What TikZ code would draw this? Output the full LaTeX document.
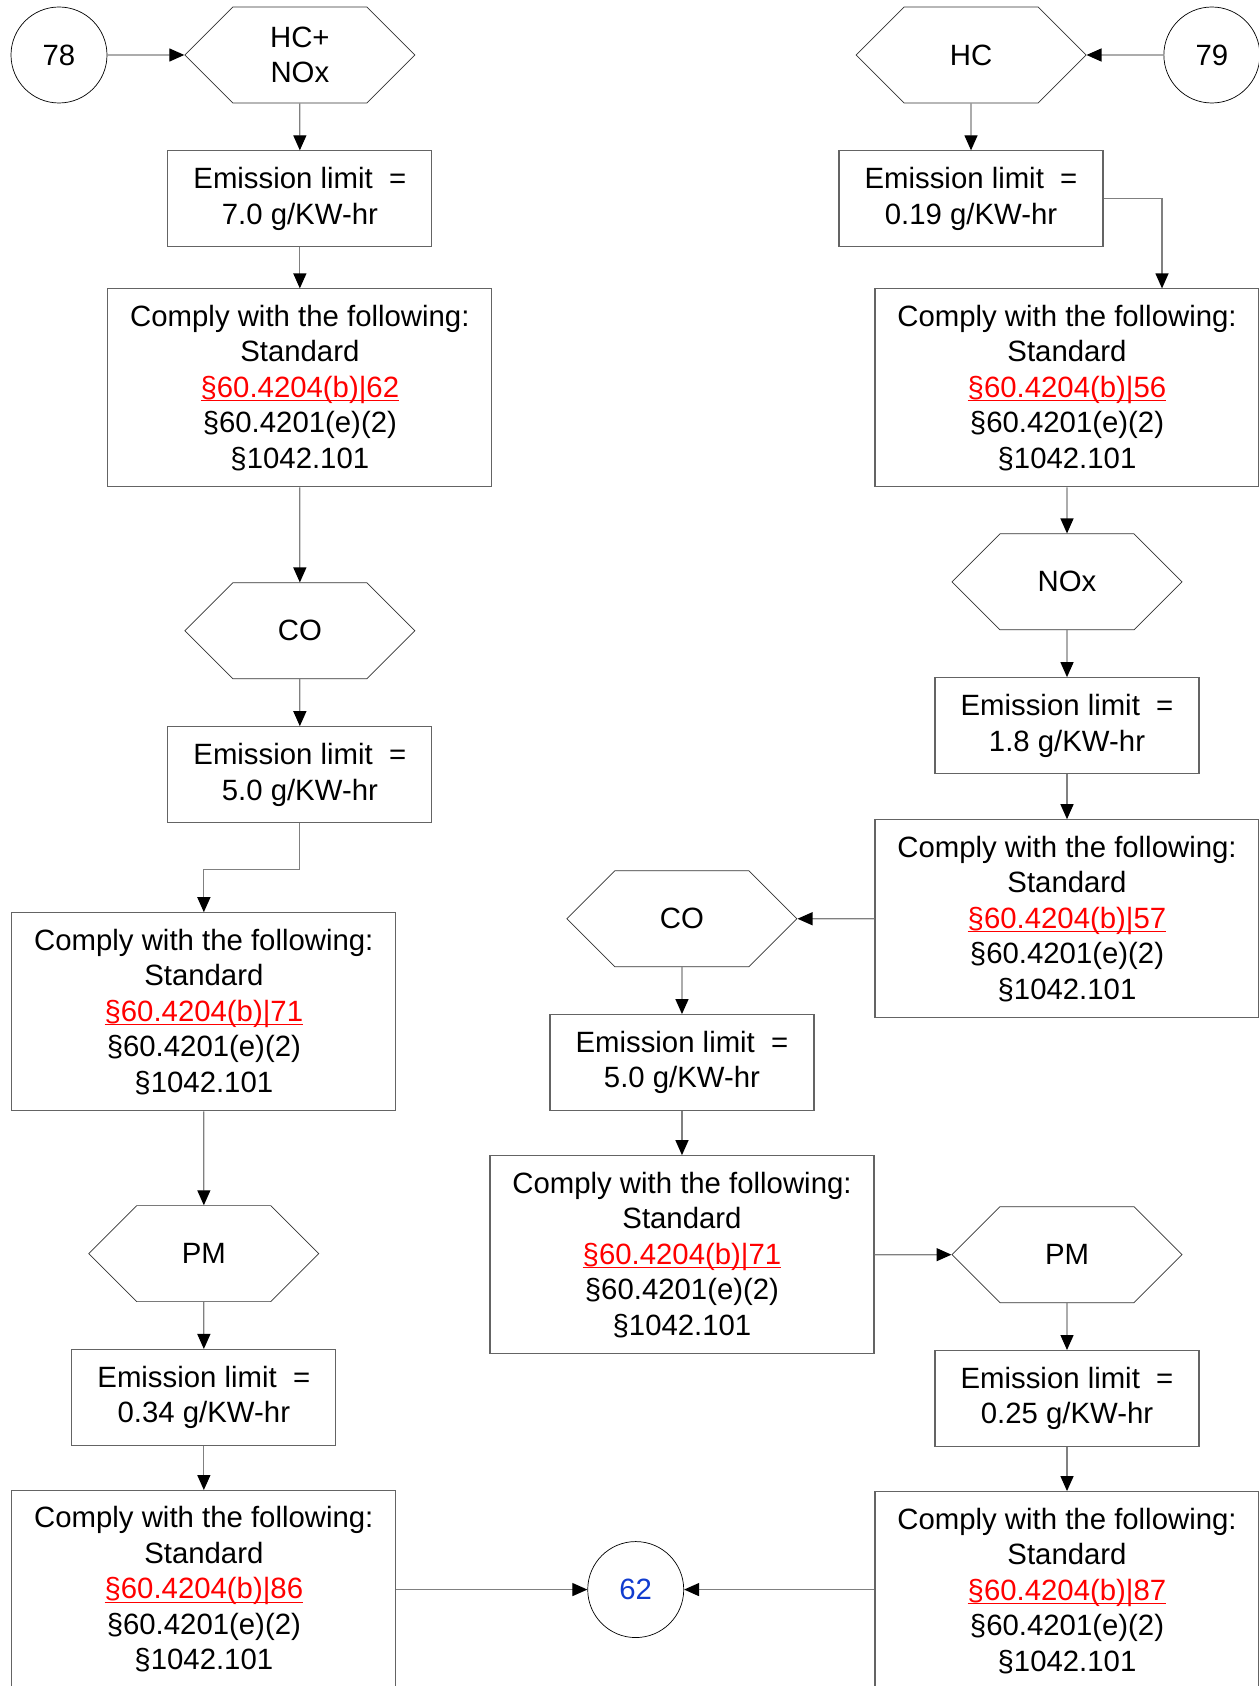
\documentclass[tikz,border=0pt]{standalone}
\usepackage{fontspec}
\setmainfont{Liberation Sans}
\usepackage{tikz}
\usetikzlibrary{arrows.meta,positioning,shapes.symbols}

\definecolor{linegray}{RGB}{128,128,128}
\definecolor{boxgray}{RGB}{100,100,100}
\definecolor{refblue}{RGB}{17,60,207}
\newcommand{\redlink}[1]{\setbox0\hbox{#1}\textcolor{red}{\rlap{\rule[-2.2pt]{\wd0}{0.7pt}}#1}}
\newcommand{\complytext}[1]{Comply with the following:\\Standard\\
  \redlink{§60.4204(b)|#1}\\§60.4201(e)(2)\\§1042.101}

\begin{document}
\begin{tikzpicture}[
    node distance=9.4mm and 15.4mm,
    font=\fontsize{16.7}{20.2}\selectfont,
    limit/.style={draw=boxgray,line width=0.6pt,minimum width=52.8mm,minimum height=19.2mm,align=center,inner sep=1pt},
    comply/.style={draw=boxgray,line width=0.6pt,minimum width=76.8mm,minimum height=39.6mm,align=center,inner sep=1pt},
    pollutant/.style={draw=black!80,line width=0.4pt,signal,signal to=east and west,signal pointer angle=90,minimum width=46mm,minimum height=19.2mm,align=center,inner sep=1pt},
    connector/.style={draw,circle,line width=0.4pt,minimum size=19.2mm,inner sep=0pt},
    >={Triangle[length=3mm,width=2.6mm,color=black]}]
  \useasboundingbox (0,0) rectangle (251.8mm,-337.2mm);
  % left column
  \node[connector] (c78) at (11.8mm,-11mm) {78};
  \node[pollutant,right=15.4mm of c78] (hcnox) {HC+\\NOx};
  \node[limit,below=of hcnox] (lim1) {Emission limit \ =\\7.0 g/KW-hr};
  \node[comply,below=8.2mm of lim1] (comp1) {\complytext{62}};
  \node[pollutant,below=19mm of comp1] (co1) {CO};
  \node[limit,below=of co1] (lim2) {Emission limit \ =\\5.0 g/KW-hr};
  \node[comply,below=17.8mm of lim2,xshift=-19.2mm] (comp2) {\complytext{71}};
  \node[pollutant,below=18.8mm of comp2] (pm1) {PM};
  \node[limit,below=of pm1] (lim3) {Emission limit \ =\\0.34 g/KW-hr};
  \node[comply,below=8.8mm of lim3] (comp3) {\complytext{86}};
  \node[connector,right=38.2mm of comp3,text=refblue] (c62) {62};
  % right column
  \node[pollutant] (hc) at (194.2mm,-11mm) {HC};
  \node[connector,right=15.4mm of hc] (c79) {79};
  \node[limit,below=of hc] (lim4) {Emission limit \ =\\0.19 g/KW-hr};
  \node[comply,below=8.2mm of lim4,xshift=19.2mm] (comp4) {\complytext{56}};
  \node[pollutant,below=9.2mm of comp4] (nox) {NOx};
  \node[limit,below=of nox] (lim5) {Emission limit \ =\\1.8 g/KW-hr};
  \node[comply,below=9mm of lim5] (comp5) {\complytext{57}};
  \node[pollutant,left=15.4mm of comp5] (co2) {CO};
  \node[limit,below=of co2] (lim6) {Emission limit \ =\\5.0 g/KW-hr};
  \node[comply,below=8.8mm of lim6] (comp6) {\complytext{71}};
  \node[pollutant,right=15.4mm of comp6] (pm2) {PM};
  \node[limit,below=of pm2] (lim7) {Emission limit \ =\\0.25 g/KW-hr};
  \node[comply,below=8.8mm of lim7] (comp7) {\complytext{87}};
  % connectors
  \begin{scope}[draw=linegray,line width=0.7pt]
    \draw[->] (c78) -- (hcnox);
    \draw[->] (hcnox) -- (lim1);
    \draw[->] (lim1) -- (comp1);
    \draw[->] (comp1) -- (co1);
    \draw[->] (co1) -- (lim2);
    \draw[->] (lim2.south) -- ++(0,-9.2mm) -| (comp2.north);
    \draw[->] (comp2) -- (pm1);
    \draw[->] (pm1) -- (lim3);
    \draw[->] (lim3) -- (comp3);
    \draw[->] (comp3) -- (c62);
    \draw[->] (c79) -- (hc);
    \draw[->] (hc) -- (lim4);
    \draw[->] (lim4.east) -| ([xshift=19mm]comp4.north);
    \draw[->] (comp4) -- (nox);
    \draw[->] (nox) -- (lim5);
    \draw[->] (lim5) -- (comp5);
    \draw[->] (comp5) -- (co2);
    \draw[->] (co2) -- (lim6);
    \draw[->] (lim6) -- (comp6);
    \draw[->] (comp6) -- (pm2);
    \draw[->] (pm2) -- (lim7);
    \draw[->] (lim7) -- (comp7);
    \draw[->] (comp7.west |- c62) -- (c62);
  \end{scope}
\end{tikzpicture}
\end{document}
